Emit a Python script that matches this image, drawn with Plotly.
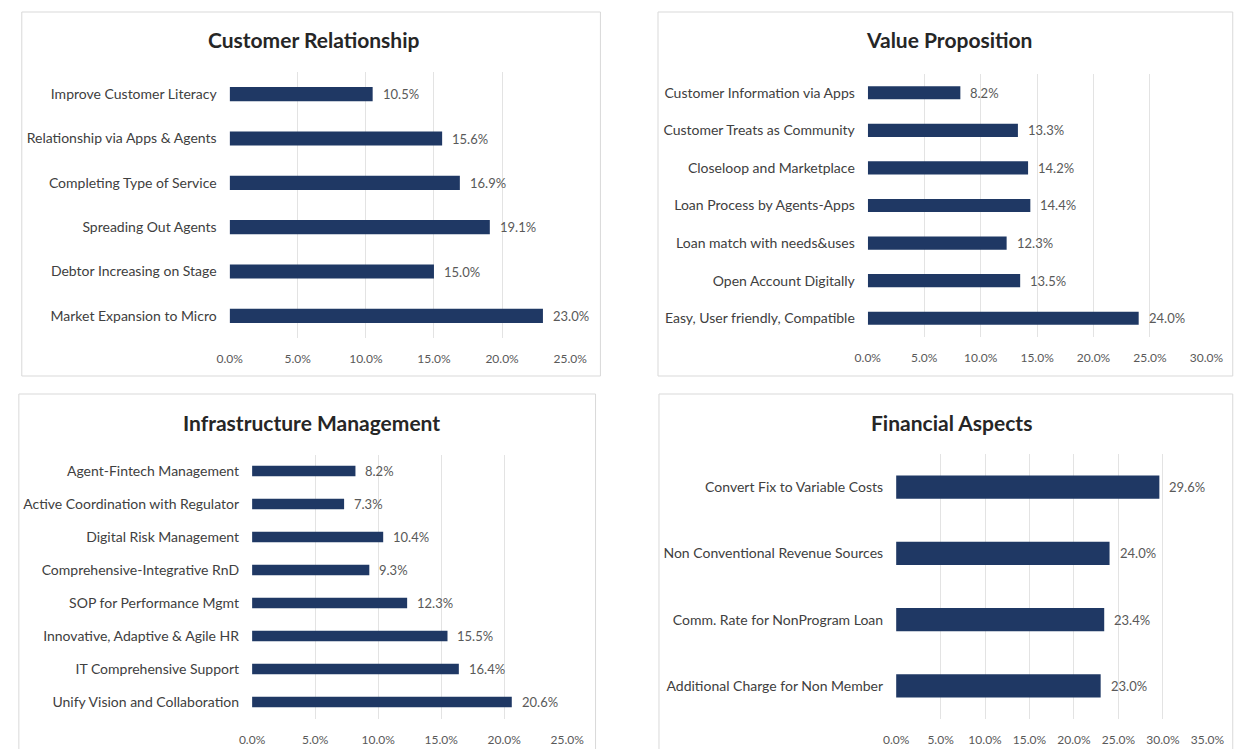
import plotly.graph_objects as go

W, H = 1240, 749

# ---- data ----
cr_labels = ["Improve Customer Literacy", "Relationship via Apps & Agents", "Completing Type of Service",
             "Spreading Out Agents", "Debtor Increasing on Stage", "Market Expansion to Micro"]
cr_values = [10.5, 15.6, 16.9, 19.1, 15.0, 23.0]

vp_labels = ["Customer Information via Apps", "Customer Treats as Community", "Closeloop and Marketplace",
             "Loan Process by Agents-Apps", "Loan match with needs&uses", "Open Account Digitally",
             "Easy, User friendly, Compatible"]
vp_values = [8.2, 13.3, 14.2, 14.4, 12.3, 13.5, 24.0]

im_labels = ["Agent-Fintech Management", "Active Coordination with Regulator", "Digital Risk Management",
             "Comprehensive-Integrative RnD", "SOP for Performance Mgmt", "Innovative, Adaptive & Agile HR",
             "IT Comprehensive Support", "Unify Vision and Collaboration"]
im_values = [8.2, 7.3, 10.4, 9.3, 12.3, 15.5, 16.4, 20.6]

fa_labels = ["Convert Fix to Variable Costs", "Non Conventional Revenue Sources",
             "Comm. Rate for NonProgram Loan", "Additional Charge for Non Member"]
fa_values = [29.6, 24.0, 23.4, 23.0]

titles = ["Customer Relationship", "Value Proposition", "Infrastructure Management", "Financial Aspects"]
x_max = [25, 30, 25, 35]

# ---- layout geometry (pixels) ----
plot_px = [  # x0, x1, y0(top), y1(bottom)
    (222, 571, 72, 338),
    (876, 1223, 74, 337),
    (245, 568, 454.5, 718.5),
    (905, 1224, 454, 719),
]
boxes_px = [(9, 602, 12, 376), (661, 1250, 12, 376), (6, 597, 394, 760), (662, 1250, 394, 760)]
title_px = [(308, 40), (959, 40), (306, 422), (962, 422)]
bar_w = [0.32, 0.35, 0.32, 0.35]

BAR = "#1F3864"
GRID = "#E3E3E3"
TXT = "#404040"
VAL = "#595959"
FONT = "Lato"

series = [(cr_labels, cr_values), (vp_labels, vp_values), (im_labels, im_values), (fa_labels, fa_values)]

fig = go.Figure()
layout = dict(
    width=W, height=H, margin=dict(l=0, r=0, t=0, b=0),
    paper_bgcolor="white", plot_bgcolor="white", showlegend=False,
    font=dict(family=FONT, color=TXT, size=12),
)
shapes, annotations = [], []

for i, ((labels, vals), (x0, x1, y0, y1)) in enumerate(zip(series, plot_px)):
    n = i + 1
    xa = "x" if n == 1 else f"x{n}"
    ya = "y" if n == 1 else f"y{n}"
    fig.add_trace(go.Bar(
        x=vals, y=labels, orientation="h", xaxis=xa, yaxis=ya,
        marker=dict(color=BAR, line=dict(width=0)), width=bar_w[i],
        hoverinfo="skip",
    ))
    for lab, v in zip(labels, vals):
        annotations.append(dict(text=f"{v:.1f}%", x=v, y=lab, xref=xa, yref=ya,
                                xanchor="left", yanchor="middle", xshift=8, showarrow=False,
                                font=dict(family=FONT, size=13, color=VAL)))
    xkey = "xaxis" if n == 1 else f"xaxis{n}"
    ykey = "yaxis" if n == 1 else f"yaxis{n}"
    layout[xkey] = dict(
        domain=[x0 / W, x1 / W], anchor=ya, range=[0, x_max[i]], dtick=5, tick0=0,
        showgrid=True, gridcolor=GRID, gridwidth=1, zeroline=False, showline=False,
        ticks="", ticksuffix="%", tickformat=".1f", ticklabelstandoff=12,
        tickfont=dict(family=FONT, size=12, color=VAL), fixedrange=True,
    )
    layout[ykey] = dict(
        domain=[1 - y1 / H, 1 - y0 / H], anchor=xa, type="category",
        categoryorder="array", categoryarray=labels, autorange="reversed",
        showgrid=False, zeroline=False, showline=False, ticks="",
        ticklabelstandoff=12, tickfont=dict(family=FONT, size=14, color=TXT), fixedrange=True,
    )
    bx0, bx1, by0, by1 = boxes_px[i]
    shapes.append(dict(type="rect", xref="paper", yref="paper",
                       x0=bx0 / W, x1=bx1 / W, y0=1 - by1 / H, y1=1 - by0 / H,
                       line=dict(color="#D9D9D9", width=1), fillcolor="rgba(0,0,0,0)", layer="below"))
    tx, ty = title_px[i]
    annotations.append(dict(text=f"<b>{titles[i]}</b>", xref="paper", yref="paper",
                            x=tx / W, y=1 - ty / H, xanchor="center", yanchor="middle",
                            showarrow=False, font=dict(family=FONT, size=21, color="#262626")))

layout["shapes"] = shapes
layout["annotations"] = annotations
fig.update_layout(**layout)
fig.write_html("out.html")
